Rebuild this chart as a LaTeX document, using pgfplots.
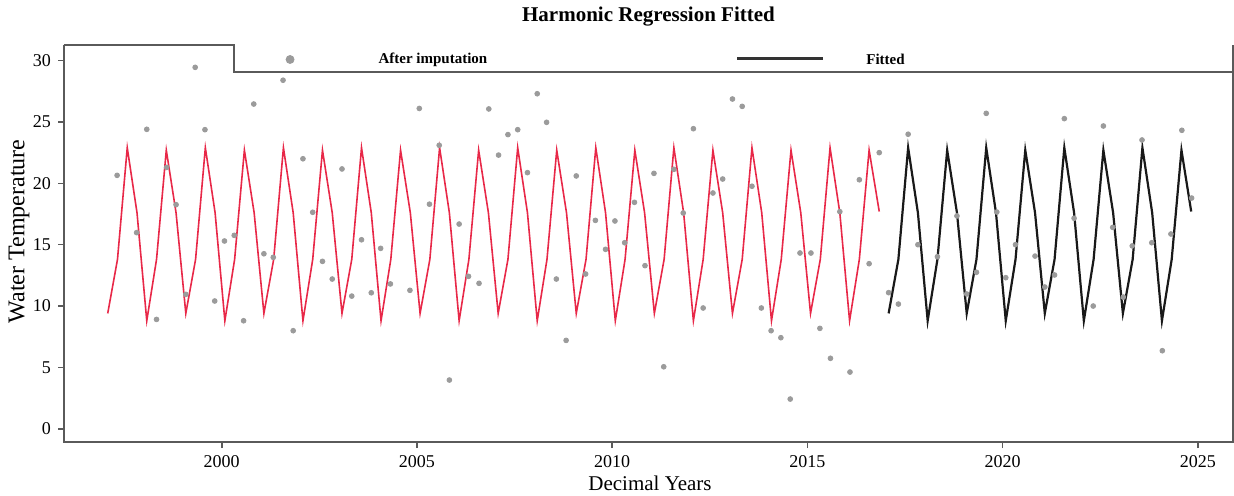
\documentclass[border=0pt]{standalone}
\usepackage{pgfplots}
\pgfplotsset{compat=1.18}
\usepackage{pgfplotstable}
\usepackage{fontspec}
\setmainfont{Liberation Serif}
\usetikzlibrary{calc}
\definecolor{fitred}{RGB}{232,40,72}
\definecolor{ptgray}{RGB}{155,155,155}
\definecolor{frame}{RGB}{90,90,90}
\definecolor{fitblack}{RGB}{25,25,25}

\pgfplotstableread{
x y
1997.32 20.65
1997.82 15.98
1998.08 24.40
1998.33 8.91
1998.59 21.30
1998.83 18.26
1999.08 10.95
1999.32 29.45
1999.57 24.37
1999.82 10.41
2000.07 15.30
2000.32 15.76
2000.56 8.80
2000.82 26.46
2001.08 14.26
2001.32 13.97
2001.57 28.40
2001.83 7.99
2002.08 22.00
2002.33 17.64
2002.58 13.64
2002.83 12.20
2003.08 21.17
2003.33 10.81
2003.58 15.40
2003.83 11.08
2004.07 14.70
2004.32 11.80
2004.82 11.28
2005.06 26.10
2005.32 18.30
2005.57 23.10
2005.83 3.97
2006.08 16.68
2006.32 12.42
2006.59 11.85
2006.84 26.06
2007.09 22.30
2007.33 23.97
2007.58 24.37
2007.83 20.87
2008.08 27.30
2008.32 24.97
2008.57 12.20
2008.82 7.20
2009.08 20.60
2009.32 12.61
2009.57 16.98
2009.83 14.62
2010.07 16.93
2010.32 15.16
2010.57 18.45
2010.84 13.29
2011.07 20.81
2011.32 5.05
2011.58 21.14
2011.82 17.58
2012.08 24.45
2012.33 9.84
2012.58 19.21
2012.83 20.35
2013.08 26.87
2013.33 26.27
2013.58 19.76
2013.82 9.84
2014.07 7.99
2014.32 7.42
2014.56 2.42
2014.81 14.32
2015.09 14.32
2015.32 8.18
2015.59 5.74
2015.83 17.69
2016.09 4.62
2016.33 20.29
2016.58 13.45
2016.84 22.50
2017.08 11.09
2017.33 10.16
2017.58 24.00
2017.83 15.00
2018.33 14.02
2018.83 17.34
2019.08 10.98
2019.33 12.75
2019.58 25.70
2019.85 17.66
2020.08 12.31
2020.33 15.00
2020.83 14.07
2021.08 11.55
2021.33 12.53
2021.58 25.27
2021.83 17.15
2022.32 10.00
2022.58 24.67
2022.82 16.41
2023.09 10.73
2023.32 14.90
2023.57 23.53
2023.82 15.16
2024.09 6.36
2024.31 15.87
2024.59 24.32
2024.84 18.80
}\obs

\pgfplotstableread{
x y
1997.08 9.4
1997.33 13.8
1997.58 22.9
1997.83 17.6
1998.08 8.8
1998.33 13.8
1998.58 22.7
1998.83 17.6
1999.08 9.4
1999.33 13.8
1999.58 22.9
1999.83 17.6
2000.08 8.8
2000.33 13.8
2000.58 22.7
2000.83 17.6
2001.08 9.4
2001.33 13.8
2001.58 22.9
2001.83 17.6
2002.08 8.8
2002.33 13.8
2002.58 22.7
2002.83 17.6
2003.08 9.4
2003.33 13.8
2003.58 22.9
2003.83 17.6
2004.08 8.8
2004.33 13.8
2004.58 22.7
2004.83 17.6
2005.08 9.4
2005.33 13.8
2005.58 22.9
2005.83 17.6
2006.08 8.8
2006.33 13.8
2006.58 22.7
2006.83 17.6
2007.08 9.4
2007.33 13.8
2007.58 22.9
2007.83 17.6
2008.08 8.8
2008.33 13.8
2008.58 22.7
2008.83 17.6
2009.08 9.4
2009.33 13.8
2009.58 22.9
2009.83 17.6
2010.08 8.8
2010.33 13.8
2010.58 22.7
2010.83 17.6
2011.08 9.4
2011.33 13.8
2011.58 22.9
2011.83 17.6
2012.08 8.8
2012.33 13.8
2012.58 22.7
2012.83 17.6
2013.08 9.4
2013.33 13.8
2013.58 22.9
2013.83 17.6
2014.08 8.8
2014.33 13.8
2014.58 22.7
2014.83 17.6
2015.08 9.4
2015.33 13.8
2015.58 22.9
2015.83 17.6
2016.08 8.8
2016.33 13.8
2016.58 22.7
2016.84 17.7
}\fitA

\pgfplotstableread{
x y
2017.08 9.4
2017.33 13.8
2017.58 22.9
2017.83 17.6
2018.08 8.8
2018.33 13.8
2018.58 22.7
2018.83 17.6
2019.08 9.4
2019.33 13.8
2019.58 22.9
2019.83 17.6
2020.08 8.8
2020.33 13.8
2020.58 22.7
2020.83 17.6
2021.08 9.4
2021.33 13.8
2021.58 22.9
2021.83 17.6
2022.08 8.8
2022.33 13.8
2022.58 22.7
2022.83 17.6
2023.08 9.4
2023.33 13.8
2023.58 22.9
2023.83 17.6
2024.08 8.8
2024.33 13.8
2024.58 22.7
2024.83 17.7
}\fitB

\begin{document}
\begin{tikzpicture}
\begin{axis}[
  scale only axis, width=584.5pt, height=198.5pt,
  xmin=1995.96, xmax=2025.9, ymin=-1.08, ymax=31.27,
  axis line style={draw=none},
  xtick={2000,2005,2010,2015,2020,2025},
  ytick={0,5,10,15,20,25,30},
  xtick pos=bottom, ytick pos=left,
  tick align=outside,
  major tick length=3pt,
  tick style={color=frame, line width=0.8pt},
  /pgf/number format/assume math mode=true,
  x tick label style={/pgf/number format/1000 sep=, font=\fontsize{9}{10}\selectfont},
  y tick label style={font=\fontsize{9}{10}\selectfont},
  clip=false,
]
\addplot[only marks, mark=*, mark size=1.2pt, color=ptgray] table[x=x,y=y]{\obs};
\addplot[fitred, line width=0.8pt] table[x=x,y=y]{\fitA};
\addplot[fitblack, line width=1.1pt] table[x=x,y=y]{\fitB};
% legend
\addplot[only marks, mark=*, mark size=2pt, color=ptgray] coordinates {(2001.75,30.09)};
\addplot[black!80, line width=1.1pt] coordinates {(2013.2,30.17) (2015.4,30.17)};
\node[font=\bfseries\fontsize{7.5}{9}\selectfont] at (axis cs:2005.41,30.1) {After imputation};
\node[font=\bfseries\fontsize{7.5}{9}\selectfont] at (axis cs:2017.0,30.1) {Fitted};
% frame
\draw[frame, line width=0.9pt] (rel axis cs:0,1) -- (rel axis cs:0,0) -- (rel axis cs:1,0) -- (rel axis cs:1,1);
\draw[frame, line width=0.9pt] (rel axis cs:0,1) -- (axis cs:2000.31,31.27) -- (axis cs:2000.31,29.05) -- (axis cs:2025.9,29.05);
\end{axis}
\node[font=\bfseries\fontsize{10.5}{12}\selectfont] at ($(current axis.north)+(0,14pt)$) {Harmonic Regression Fitted};
\node[font=\fontsize{10.5}{12}\selectfont] at ($(current axis.south)+(0.75pt,-20.5pt)$) {Decimal Years};
\node[rotate=90, font=\fontsize{12}{14}\selectfont] at ($(current axis.west)+(-22.5pt,6pt)$) {Water Temperature};
\pgfresetboundingbox
\path ($(current axis.south west)+(-32pt,-26.5pt)$) rectangle ($(current axis.north east)+(0.5pt,22.5pt)$);
\end{tikzpicture}
\end{document}
